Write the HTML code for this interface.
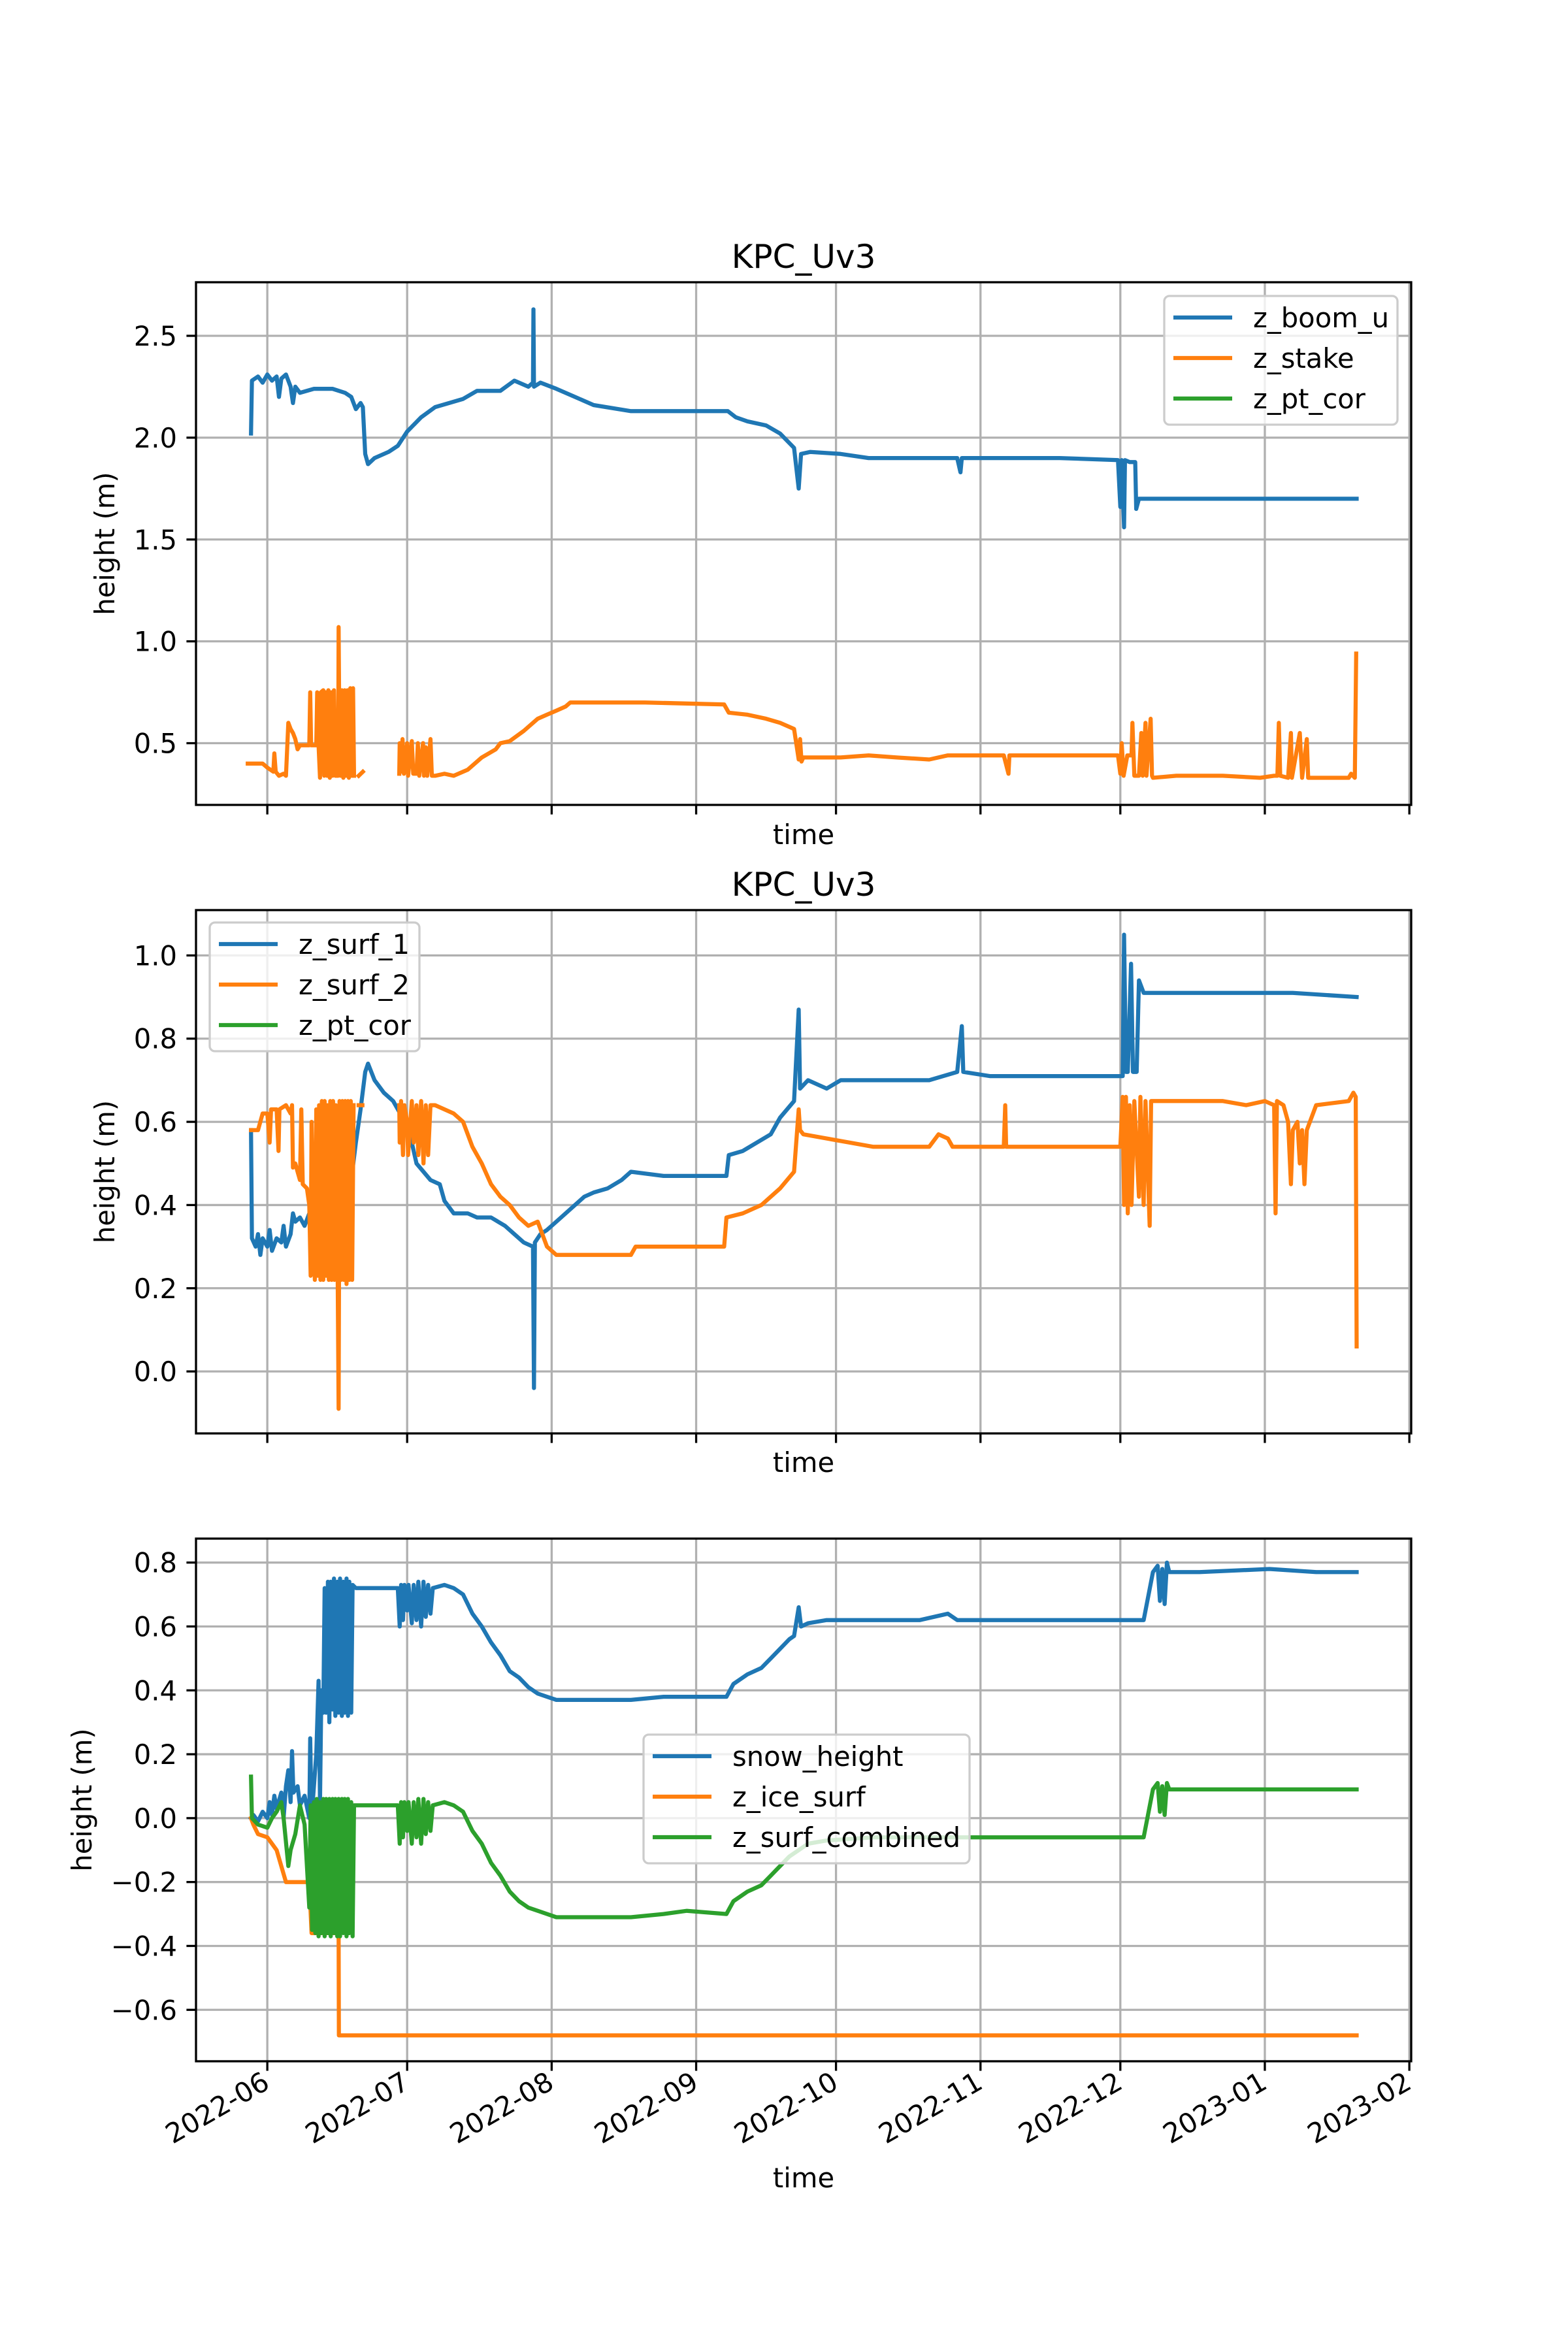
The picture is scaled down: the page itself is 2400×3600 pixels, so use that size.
<!DOCTYPE html>
<html><head><meta charset="utf-8"><style>
html,body{margin:0;padding:0;background:#fff;}
svg{display:block;font-family:"DejaVu Sans","Liberation Sans",sans-serif;}
</style></head><body>
<svg id="fig" width="2400" height="3600" viewBox="0 0 2400 3600" xmlns="http://www.w3.org/2000/svg"></svg>
<script>
// x axis: days since 2022-06-01
const monthLabels = ["2022-06","2022-07","2022-08","2022-09","2022-10","2022-11","2022-12","2023-01","2023-02"];
const monthDays = [0,30,61,92,122,153,183,214,245];
const xDomain = [-15.3, 245.4];

const p1Ticks = [0.5,1.0,1.5,2.0,2.5];
const p2Ticks = [0.0,0.2,0.4,0.6,0.8,1.0];
const p3Ticks = [-0.6,-0.4,-0.2,0.0,0.2,0.4,0.6,0.8];

const zBoomU = [[-3.5,2.02],[-3.3,2.28],[-2,2.30],[-1,2.27],[0,2.31],[1,2.28],[2,2.30],[2.5,2.20],[3,2.29],[4,2.31],[5,2.25],[5.5,2.17],[6,2.25],[7,2.22],[10,2.24],[14,2.24],[16.7,2.22],[18,2.20],[19,2.14],[20,2.17],[20.5,2.15],[21,1.92],[21.6,1.87],[23,1.90],[26,1.93],[28,1.96],[30,2.03],[33,2.10],[36,2.15],[39,2.17],[42,2.19],[45,2.23],[50,2.23],[53,2.28],[56,2.25],[57,2.27],[57.1,2.63],[57.2,2.25],[58.6,2.27],[62,2.24],[66,2.20],[70,2.16],[78,2.13],[98.8,2.13],[100.5,2.10],[103,2.08],[107,2.06],[110,2.02],[113,1.95],[114,1.75],[114.5,1.92],[116.5,1.93],[123,1.92],[129,1.90],[148,1.90],[148.7,1.83],[149,1.90],[160,1.90],[170,1.90],[182.5,1.89],[183,1.66],[183.3,1.89],[183.8,1.56],[184,1.89],[185,1.88],[186.2,1.88],[186.4,1.65],[187,1.70],[189,1.70],[233.7,1.70]];
const zStake = [[-4.2,0.40],[-1,0.40],[0,0.38],[1.3,0.36],[1.5,0.45],[1.8,0.36],[2.5,0.34],[3.5,0.35],[4,0.34],[4.5,0.60],[5,0.57],[5.5,0.55],[6,0.52],[6.5,0.47],[7,0.49],[9,0.49],[9.2,0.75],[9.4,0.49],[10.5,0.49],[10.7,0.75],[11,0.49],[11.3,0.33],[11.5,0.75],[12,0.76],[12.2,0.34],[12.5,0.75],[12.8,0.34],[13.1,0.76],[13.4,0.33],[13.7,0.75],[14,0.34],[14.3,0.76],[14.6,0.34],[15.2,0.34],[15.3,1.07],[15.4,0.75],[15.7,0.34],[16,0.76],[16.3,0.33],[16.6,0.76],[16.9,0.34],[17.2,0.76],[17.5,0.33],[17.8,0.77],[18.1,0.34],[18.4,0.77],[18.6,0.34],null,[19.6,0.34],[20.5,0.36],null,[28.3,0.35],[28.4,0.50],[28.7,0.36],[29,0.52],[29.3,0.35],[30,0.50],[30.2,0.34],[31,0.51],[31.3,0.35],[32,0.35],[32.3,0.50],[32.6,0.34],[33.4,0.50],[33.6,0.34],[34,0.48],[34.3,0.34],[35,0.52],[35.3,0.34],[36,0.34],[38,0.35],[40,0.34],[43,0.37],[46,0.43],[49,0.47],[50,0.50],[52,0.51],[55,0.56],[58,0.62],[60,0.64],[62,0.66],[64,0.68],[65,0.70],[78,0.70],[81,0.70],[98,0.69],[99,0.65],[103,0.64],[107,0.62],[110,0.60],[113,0.57],[114,0.42],[114.3,0.52],[114.6,0.41],[115,0.43],[123,0.43],[129,0.44],[135,0.43],[142,0.42],[146,0.44],[158,0.44],[159,0.35],[159.2,0.44],[182.5,0.44],[183,0.35],[183.3,0.50],[183.7,0.34],[184.5,0.44],[185.4,0.44],[185.6,0.60],[186,0.34],[187,0.34],[187.5,0.55],[187.8,0.34],[188.4,0.60],[188.6,0.34],[189.5,0.62],[189.8,0.34],[190,0.33],[195,0.34],[205,0.34],[213,0.33],[216,0.34],[216.7,0.34],[217,0.60],[217.3,0.34],[219,0.33],[219.6,0.55],[219.8,0.33],[221.5,0.55],[222,0.33],[223,0.52],[223.3,0.33],[224,0.33],[232,0.33],[232.5,0.35],[233.3,0.33],[233.6,0.94]];

const zSurf1 = [[-3.5,0.58],[-3.3,0.32],[-2.5,0.30],[-2,0.33],[-1.5,0.28],[-1,0.32],[0,0.30],[0.5,0.34],[1,0.29],[2,0.32],[3,0.31],[3.5,0.35],[4,0.30],[5,0.33],[5.5,0.38],[6,0.36],[7,0.37],[8,0.35],[9,0.38],[10,0.37],[11,0.40],[12,0.38],[13,0.42],[14,0.40],[15,0.45],[16,0.44],[17,0.50],[18,0.46],[19,0.55],[20,0.63],[21,0.72],[21.6,0.74],[23,0.70],[25,0.67],[27,0.65],[29,0.61],[30,0.60],[31,0.55],[32,0.50],[35,0.46],[37,0.45],[38,0.41],[40,0.38],[43,0.38],[45,0.37],[48,0.37],[51,0.35],[53,0.33],[55,0.31],[57,0.30],[57.2,-0.04],[57.4,0.31],[58.6,0.33],[60,0.34],[62,0.36],[65,0.39],[68,0.42],[70,0.43],[73,0.44],[76,0.46],[78,0.48],[85,0.47],[98.5,0.47],[99,0.52],[102,0.53],[105,0.55],[108,0.57],[110,0.61],[113,0.65],[114,0.87],[114.3,0.68],[116,0.70],[120,0.68],[123,0.70],[130,0.70],[142,0.70],[148,0.72],[149,0.83],[149.3,0.72],[155,0.71],[170,0.71],[183,0.71],[183.5,0.71],[183.8,1.05],[184.2,0.72],[184.6,0.72],[185.3,0.98],[185.7,0.72],[186.5,0.72],[187,0.94],[188,0.91],[190,0.91],[200,0.91],[210,0.91],[220,0.91],[233.7,0.90]];
const zSurf2 = [[-3.5,0.58],[-2,0.58],[-1,0.62],[0,0.62],[0.5,0.55],[0.8,0.63],[2,0.63],[2.4,0.53],[2.6,0.63],[4,0.64],[5,0.62],[5.3,0.64],[5.5,0.49],[6,0.50],[6.5,0.48],[7,0.46],[7.3,0.63],[7.6,0.45],[8.5,0.44],[9,0.40],[9.3,0.23],[9.5,0.60],[9.8,0.40],[10.2,0.22],[10.5,0.63],[10.8,0.23],[11.1,0.64],[11.4,0.22],[11.7,0.65],[12,0.22],[12.3,0.65],[12.6,0.23],[12.9,0.64],[13.2,0.22],[13.5,0.65],[13.8,0.22],[14.1,0.65],[14.4,0.22],[14.7,0.64],[15.1,0.22],[15.3,-0.09],[15.5,0.65],[15.8,0.22],[16.1,0.65],[16.4,0.22],[16.7,0.65],[17,0.21],[17.3,0.65],[17.6,0.22],[17.9,0.65],[18.2,0.22],[18.5,0.64],null,[19.6,0.64],[20.4,0.64],null,[28.3,0.64],[28.4,0.55],[28.7,0.65],[29.1,0.52],[29.4,0.64],[30,0.60],[30.2,0.52],[31,0.65],[31.4,0.55],[32,0.64],[32.4,0.52],[33,0.65],[33.5,0.50],[34,0.64],[34.5,0.52],[35,0.64],[36,0.64],[38,0.63],[40,0.62],[42,0.60],[44,0.54],[46,0.50],[48,0.45],[50,0.42],[52,0.40],[54,0.37],[56,0.35],[58,0.36],[59,0.33],[60,0.30],[62,0.28],[68,0.28],[75,0.28],[78,0.28],[79,0.30],[85,0.30],[98,0.30],[98.5,0.37],[102,0.38],[106,0.40],[110,0.44],[113,0.48],[114,0.63],[114.3,0.58],[115,0.57],[120,0.56],[125,0.55],[130,0.54],[142,0.54],[144,0.57],[146,0.56],[147,0.54],[158,0.54],[158.3,0.64],[158.5,0.54],[183,0.54],[183.5,0.66],[183.8,0.40],[184.2,0.66],[184.6,0.38],[185,0.64],[185.4,0.40],[186,0.65],[187,0.42],[187.3,0.66],[188,0.40],[188.4,0.65],[189.3,0.35],[189.6,0.65],[195,0.65],[205,0.65],[210,0.64],[214,0.65],[216,0.64],[216.3,0.38],[216.6,0.65],[218,0.64],[219,0.60],[219.6,0.45],[220,0.58],[221,0.60],[221.5,0.50],[222,0.58],[222.5,0.45],[223,0.58],[225,0.64],[232,0.65],[233,0.67],[233.5,0.66],[233.7,0.06]];

const snowHeight = [[-3.5,0.0],[-3,0.01],[-2,-0.01],[-1,0.02],[0,0.0],[0.5,0.05],[1,0.01],[1.5,0.07],[2,0.03],[3,0.08],[3.5,0.0],[4,0.10],[4.5,0.15],[5,0.05],[5.3,0.21],[5.6,0.08],[6.5,0.10],[7,0.04],[8,0.07],[9,0.0],[9.2,0.25],[9.5,0.0],[10.5,0.20],[11,0.43],[11.3,0.05],[11.6,0.40],[12,0.33],[12.3,0.72],[12.6,0.33],[13,0.74],[13.3,0.30],[13.6,0.74],[14,0.34],[14.3,0.75],[14.6,0.32],[15,0.74],[15.3,0.33],[15.6,0.75],[16,0.32],[16.3,0.74],[16.6,0.33],[17,0.75],[17.3,0.32],[17.6,0.74],[18,0.33],[18.3,0.73],[19,0.72],[28,0.72],[28.4,0.60],[28.7,0.73],[29.1,0.62],[29.4,0.73],[30,0.65],[30.3,0.73],[31,0.61],[31.4,0.73],[32,0.62],[32.4,0.74],[33,0.60],[33.5,0.74],[34,0.63],[34.5,0.73],[35,0.64],[35.5,0.72],[38,0.73],[40,0.72],[42,0.70],[44,0.64],[46,0.60],[48,0.55],[50,0.51],[52,0.46],[54,0.44],[56,0.41],[58,0.39],[60,0.38],[62,0.37],[70,0.37],[78,0.37],[85,0.38],[90,0.38],[98.5,0.38],[100,0.42],[103,0.45],[106,0.47],[108,0.50],[110,0.53],[112,0.56],[113,0.57],[114,0.66],[114.5,0.60],[116,0.61],[120,0.62],[130,0.62],[140,0.62],[143,0.63],[146,0.64],[148,0.62],[160,0.62],[180,0.62],[188,0.62],[190,0.77],[191,0.79],[191.5,0.68],[192,0.78],[192.5,0.67],[193,0.80],[193.5,0.77],[200,0.77],[215,0.78],[225,0.77],[233.7,0.77]];
const zIceSurf = [[-3.5,0.0],[-3,-0.02],[-2,-0.05],[0,-0.06],[1,-0.08],[2,-0.10],[4,-0.20],[9,-0.20],[9.5,-0.36],[15.3,-0.36],[15.35,-0.68],[233.7,-0.68]];
const zSurfCombined = [[-3.5,0.13],[-3.3,0.0],[-2,-0.02],[0,-0.03],[1,0.0],[2,0.02],[3,0.05],[3.5,0.0],[4.5,-0.15],[5,-0.10],[6,-0.05],[7,0.04],[8,-0.02],[9,-0.28],[9.3,0.04],[9.6,-0.35],[10,0.05],[10.3,-0.36],[10.6,0.06],[11,-0.37],[11.3,0.05],[11.6,-0.36],[12,0.06],[12.3,-0.37],[12.6,0.06],[13,-0.36],[13.3,0.06],[13.6,-0.37],[14,0.06],[14.3,-0.36],[14.6,0.06],[15,-0.37],[15.3,0.06],[15.6,-0.37],[16,0.06],[16.3,-0.36],[16.6,0.06],[17,-0.37],[17.3,0.06],[17.6,-0.36],[18,0.05],[18.3,-0.37],[18.6,0.04],[19,0.04],[28,0.04],[28.4,-0.08],[28.7,0.05],[29.1,-0.06],[29.4,0.05],[30,-0.04],[30.3,0.05],[31,-0.08],[31.4,0.05],[32,-0.06],[32.4,0.06],[33,-0.08],[33.5,0.06],[34,-0.05],[34.5,0.05],[35,-0.04],[35.5,0.04],[38,0.05],[40,0.04],[42,0.02],[44,-0.04],[46,-0.08],[48,-0.14],[50,-0.18],[52,-0.23],[54,-0.26],[56,-0.28],[58,-0.29],[60,-0.30],[62,-0.31],[70,-0.31],[78,-0.31],[85,-0.30],[90,-0.29],[98.5,-0.30],[100,-0.26],[103,-0.23],[106,-0.21],[108,-0.18],[110,-0.15],[112,-0.12],[114,-0.10],[116,-0.08],[120,-0.07],[130,-0.06],[160,-0.06],[188,-0.06],[190,0.09],[191,0.11],[191.5,0.02],[192,0.10],[192.5,0.01],[193,0.11],[193.5,0.09],[200,0.09],[215,0.09],[225,0.09],[233.7,0.09]];

const NS = "http://www.w3.org/2000/svg";
const svg = document.getElementById("fig");
const L = 300, R = 2160;
const C = {blue:"#1f77b4", orange:"#ff7f0e", green:"#2ca02c"};
function mk(tag, attrs, parent){ const e=document.createElementNS(NS,tag); for(const k in attrs) e.setAttribute(k,attrs[k]); (parent||svg).appendChild(e); return e; }
function xs(d){ return L + (d - xDomain[0])/(xDomain[1]-xDomain[0])*(R-L); }

function panel(cfg){
  const g = mk("g",{});
  
  
  const T=cfg.top, B=cfg.bottom;
  const ys = v => B - (v - cfg.ylim[0])/(cfg.ylim[1]-cfg.ylim[0])*(B-T);
  monthDays.forEach((d,i)=>{
    const gl = mk("line",{x1:xs(d),x2:xs(d),y1:T,y2:B,stroke:"#b0b0b0","stroke-width":3.3},g);
    
    
    const tk = mk("line",{x1:xs(d),x2:xs(d),y1:B,y2:B+14.6,stroke:"#000","stroke-width":3.3},g);
    
    
  });
  cfg.ticks.forEach(v=>{
    const y=ys(v);
    const gl = mk("line",{x1:L,x2:R,y1:y,y2:y,stroke:"#b0b0b0","stroke-width":3.3},g);
    
    
    const tk = mk("line",{x1:L-14.6,x2:L,y1:y,y2:y,stroke:"#000","stroke-width":3.3},g);
    
    
    const t = mk("text",{x:L-29,y:y+15,"text-anchor":"end","font-size":41.7,fill:"#000"},g);
    t.textContent = (v<0?"\u2212":"") + Math.abs(v).toFixed(1);
    
    
  });
  const clipId = "clip"+cfg.name;
  const cp = mk("clipPath",{id:clipId},g);
  mk("rect",{x:L,y:T,width:R-L,height:B-T},cp);
  cfg.series.forEach(s=>{
    let dstr="", pen=false;
    s.data.forEach(p=>{
      if(p===null){pen=false;return;}
      dstr += (pen?"L":"M") + xs(p[0]).toFixed(1) + "," + ys(p[1]).toFixed(1);
      pen=true;
    });
    const path = mk("path",{d:dstr,fill:"none",stroke:s.color,"stroke-width":6.25,"stroke-linejoin":"round","stroke-linecap":"square","clip-path":"url(#"+clipId+")"},g);
    
    
  });
  const fr = mk("rect",{x:L,y:T,width:R-L,height:B-T,fill:"none",stroke:"#000","stroke-width":3.3},g);
  
  
  if(cfg.title){
    const t = mk("text",{x:(L+R)/2,y:T-22,"text-anchor":"middle","font-size":50,fill:"#000"},g);
    t.textContent = cfg.title;
    
    
  }
  const yl = mk("text",{x:0,y:0,"text-anchor":"middle","font-size":41.7,fill:"#000",transform:`translate(${cfg.ylabX},${(T+B)/2}) rotate(-90)`},g);
  yl.textContent = "height (m)";
  
  
  const xl = mk("text",{x:(L+R)/2,y:cfg.xlabY,"text-anchor":"middle","font-size":41.7,fill:"#000"},g);
  xl.textContent = "time";
  
  
  if(cfg.dateLabels){
    monthDays.forEach((d,i)=>{
      const t = mk("text",{x:0,y:0,"text-anchor":"end","font-size":41.7,fill:"#000",transform:`translate(${xs(d)+6},${B+40}) rotate(-30)`},g);
      t.textContent = monthLabels[i];
      
      
    });
  }
  const lg = cfg.legend;
  const lgG = mk("g",{},g);
  
  
  mk("rect",{x:lg.x,y:lg.y,width:lg.w,height:lg.h,rx:8,fill:"#fff","fill-opacity":0.8,stroke:"#cccccc","stroke-width":3.3},lgG);
  lg.entries.forEach((e,i)=>{
    const yy = lg.y + 33 + i*62;
    const ln = mk("line",{x1:lg.x+14,x2:lg.x+104,y1:yy,y2:yy,stroke:e.color,"stroke-width":6.25},lgG);
    
    
    const t = mk("text",{x:lg.x+136,y:yy+15,"font-size":41.7,fill:"#000"},lgG);
    t.textContent = e.label;
    
    
  });
}

panel({name:"panel-top", top:432, bottom:1232, ylim:[0.197,2.763], ticks:p1Ticks, title:"KPC_Uv3", ylabX:175, xlabY:1292,
  series:[{label:"z_boom_u",color:C.blue,data:zBoomU},{label:"z_stake",color:C.orange,data:zStake}],
  legend:{x:1782,y:453,w:357,h:197,entries:[{label:"z_boom_u",color:C.blue},{label:"z_stake",color:C.orange},{label:"z_pt_cor",color:C.green}]}});
panel({name:"panel-middle", top:1393, bottom:2194, ylim:[-0.149,1.109], ticks:p2Ticks, title:"KPC_Uv3", ylabX:175, xlabY:2253,
  series:[{label:"z_surf_1",color:C.blue,data:zSurf1},{label:"z_surf_2",color:C.orange,data:zSurf2}],
  legend:{x:321,y:1412,w:321,h:197,entries:[{label:"z_surf_1",color:C.blue},{label:"z_surf_2",color:C.orange},{label:"z_pt_cor",color:C.green}]}});
panel({name:"panel-bottom", top:2355, bottom:3155, ylim:[-0.761,0.875], ticks:p3Ticks, title:null, ylabX:140, xlabY:3348, dateLabels:true,
  series:[{label:"snow_height",color:C.blue,data:snowHeight},{label:"z_ice_surf",color:C.orange,data:zIceSurf},{label:"z_surf_combined",color:C.green,data:zSurfCombined}],
  legend:{x:985,y:2655,w:499,h:197,entries:[{label:"snow_height",color:C.blue},{label:"z_ice_surf",color:C.orange},{label:"z_surf_combined",color:C.green}]}});
</script>
</body></html>
